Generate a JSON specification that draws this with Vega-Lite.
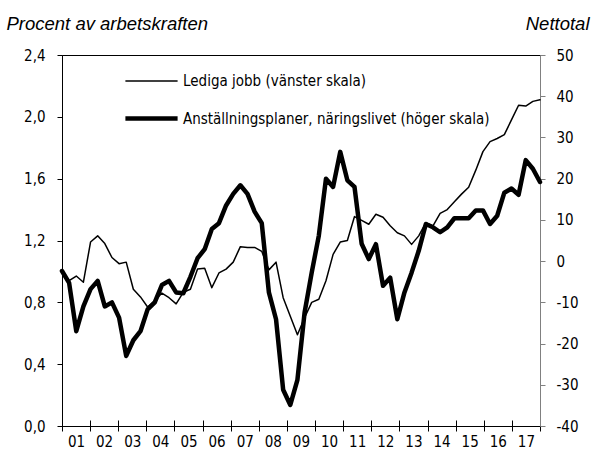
{
  "$schema": "https://vega.github.io/schema/vega-lite/v6.json",
  "width": 478,
  "height": 371,
  "autosize": {"type": "none"},
  "padding": {"left": 62, "top": 55, "right": 52, "bottom": 31},
  "background": "white",
  "config": {
    "view": {"stroke": "black", "strokeWidth": 1},
    "axis": {"labelFont": "DejaVu Sans Condensed, Liberation Sans, sans-serif", "labelFontSize": 15, "labelColor": "black", "grid": false, "titleFont": "Liberation Sans", "titleFontSize": 18.5, "titleFontStyle": "italic", "titleFontWeight": "normal", "titleColor": "black"}
  },
  "title": {"text": "Arbetsmarknaden fortsätter att stärkas", "anchor": "start", "frame": "group", "fontSize": 33, "fontWeight": "bold", "font": "Liberation Sans", "color": "black", "baseline": "alphabetic", "offset": -14, "dx": -62},
  "data": {"values": [
    {"q":0,"series":"jobb","value":0.99},{"q":1,"series":"jobb","value":0.94},{"q":2,"series":"jobb","value":0.97},{"q":3,"series":"jobb","value":0.93},
    {"q":4,"series":"jobb","value":1.19},{"q":5,"series":"jobb","value":1.23},{"q":6,"series":"jobb","value":1.18},{"q":7,"series":"jobb","value":1.09},
    {"q":8,"series":"jobb","value":1.05},{"q":9,"series":"jobb","value":1.06},{"q":10,"series":"jobb","value":0.885},{"q":11,"series":"jobb","value":0.835},
    {"q":12,"series":"jobb","value":0.77},{"q":13,"series":"jobb","value":0.81},{"q":14,"series":"jobb","value":0.86},{"q":15,"series":"jobb","value":0.83},
    {"q":16,"series":"jobb","value":0.79},{"q":17,"series":"jobb","value":0.865},{"q":18,"series":"jobb","value":0.885},{"q":19,"series":"jobb","value":1.015},
    {"q":20,"series":"jobb","value":1.02},{"q":21,"series":"jobb","value":0.895},{"q":22,"series":"jobb","value":0.99},{"q":23,"series":"jobb","value":1.015},
    {"q":24,"series":"jobb","value":1.06},{"q":25,"series":"jobb","value":1.16},{"q":26,"series":"jobb","value":1.155},{"q":27,"series":"jobb","value":1.155},
    {"q":28,"series":"jobb","value":1.13},{"q":29,"series":"jobb","value":1.01},{"q":30,"series":"jobb","value":1.06},{"q":31,"series":"jobb","value":0.83},
    {"q":32,"series":"jobb","value":0.71},{"q":33,"series":"jobb","value":0.59},{"q":34,"series":"jobb","value":0.70},{"q":35,"series":"jobb","value":0.80},
    {"q":36,"series":"jobb","value":0.82},{"q":37,"series":"jobb","value":0.94},{"q":38,"series":"jobb","value":1.11},{"q":39,"series":"jobb","value":1.19},
    {"q":40,"series":"jobb","value":1.20},{"q":41,"series":"jobb","value":1.355},{"q":42,"series":"jobb","value":1.33},{"q":43,"series":"jobb","value":1.305},
    {"q":44,"series":"jobb","value":1.37},{"q":45,"series":"jobb","value":1.35},{"q":46,"series":"jobb","value":1.295},{"q":47,"series":"jobb","value":1.25},
    {"q":48,"series":"jobb","value":1.23},{"q":49,"series":"jobb","value":1.175},{"q":50,"series":"jobb","value":1.23},{"q":51,"series":"jobb","value":1.315},
    {"q":52,"series":"jobb","value":1.295},{"q":53,"series":"jobb","value":1.375},{"q":54,"series":"jobb","value":1.40},{"q":55,"series":"jobb","value":1.45},
    {"q":56,"series":"jobb","value":1.50},{"q":57,"series":"jobb","value":1.545},{"q":58,"series":"jobb","value":1.655},{"q":59,"series":"jobb","value":1.775},
    {"q":60,"series":"jobb","value":1.84},{"q":61,"series":"jobb","value":1.86},{"q":62,"series":"jobb","value":1.885},{"q":63,"series":"jobb","value":1.98},
    {"q":64,"series":"jobb","value":2.075},{"q":65,"series":"jobb","value":2.07},{"q":66,"series":"jobb","value":2.10},{"q":67,"series":"jobb","value":2.11},
    {"q":0,"series":"plan","value":-2.4},{"q":1,"series":"plan","value":-5.3},{"q":2,"series":"plan","value":-17},{"q":3,"series":"plan","value":-11},
    {"q":4,"series":"plan","value":-6.8},{"q":5,"series":"plan","value":-4.8},{"q":6,"series":"plan","value":-11},{"q":7,"series":"plan","value":-10},
    {"q":8,"series":"plan","value":-13.7},{"q":9,"series":"plan","value":-23},{"q":10,"series":"plan","value":-19.2},{"q":11,"series":"plan","value":-17},
    {"q":12,"series":"plan","value":-11.7},{"q":13,"series":"plan","value":-10},{"q":14,"series":"plan","value":-5.8},{"q":15,"series":"plan","value":-4.8},
    {"q":16,"series":"plan","value":-7.6},{"q":17,"series":"plan","value":-7.8},{"q":18,"series":"plan","value":-3.8},{"q":19,"series":"plan","value":0.7},
    {"q":20,"series":"plan","value":2.9},{"q":21,"series":"plan","value":7.8},{"q":22,"series":"plan","value":9.2},{"q":23,"series":"plan","value":13.5},
    {"q":24,"series":"plan","value":16.3},{"q":25,"series":"plan","value":18.4},{"q":26,"series":"plan","value":16.3},{"q":27,"series":"plan","value":12},
    {"q":28,"series":"plan","value":9.2},{"q":29,"series":"plan","value":-7.6},{"q":30,"series":"plan","value":-14.1},{"q":31,"series":"plan","value":-31.2},
    {"q":32,"series":"plan","value":-34.9},{"q":33,"series":"plan","value":-28.8},{"q":34,"series":"plan","value":-12.5},{"q":35,"series":"plan","value":-2.8},
    {"q":36,"series":"plan","value":6.2},{"q":37,"series":"plan","value":20},{"q":38,"series":"plan","value":18},{"q":39,"series":"plan","value":26.5},
    {"q":40,"series":"plan","value":19.6},{"q":41,"series":"plan","value":18},{"q":42,"series":"plan","value":4.2},{"q":43,"series":"plan","value":0.5},
    {"q":44,"series":"plan","value":4.1},{"q":45,"series":"plan","value":-6},{"q":46,"series":"plan","value":-4},{"q":47,"series":"plan","value":-14.1},
    {"q":48,"series":"plan","value":-7.6},{"q":49,"series":"plan","value":-2.8},{"q":50,"series":"plan","value":2.5},{"q":51,"series":"plan","value":9},
    {"q":52,"series":"plan","value":8.2},{"q":53,"series":"plan","value":7},{"q":54,"series":"plan","value":8.2},{"q":55,"series":"plan","value":10.4},
    {"q":56,"series":"plan","value":10.4},{"q":57,"series":"plan","value":10.4},{"q":58,"series":"plan","value":12.3},{"q":59,"series":"plan","value":12.3},
    {"q":60,"series":"plan","value":9},{"q":61,"series":"plan","value":11},{"q":62,"series":"plan","value":16.6},{"q":63,"series":"plan","value":17.6},
    {"q":64,"series":"plan","value":16.1},{"q":65,"series":"plan","value":24.5},{"q":66,"series":"plan","value":22.4},{"q":67,"series":"plan","value":19.2}
  ]},
  "layer": [
    {
      "transform": [{"filter": "datum.series == 'jobb'"}],
      "mark": {"type": "line", "color": "black", "strokeJoin": "round", "strokeCap": "round"},
      "encoding": {
        "x": {"field": "q", "type": "quantitative", "scale": {"domain": [0, 67], "nice": false, "zero": false},
          "axis": {"orient": "bottom", "title": null, "values": [0, 3.9412, 7.8824, 11.8235, 15.7647, 19.7059, 23.6471, 27.5882, 31.5294, 35.4706, 39.4118, 43.3529, 47.2941, 51.2353, 55.1765, 59.1176, 63.0588, 67],
            "labelExpr": "round(datum.value*17/67) < 17 ? (round(datum.value*17/67) < 9 ? '0' : '') + (round(datum.value*17/67) + 1) : ''",
            "labelOffset": 14, "labelFlush": false, "labelOverlap": false, "tickSize": 5, "tickColor": "black", "domainColor": "black", "labelPadding": 3}},
        "y": {"field": "value", "type": "quantitative", "scale": {"domain": [0, 2.4], "nice": false, "zero": false},
          "axis": {"orient": "left", "values": [0, 0.4, 0.8, 1.2, 1.6, 2.0, 2.4], "labelExpr": "replace(format(datum.value, '.1f'), '.', ',')",
            "tickSize": 5, "tickColor": "black", "domainColor": "black", "labelPadding": 12,
            "title": "Procent av arbetskraften", "titleAngle": 0, "titleAlign": "left", "titleBaseline": "alphabetic", "titleX": -56, "titleY": -26}},
        "strokeWidth": {"field": "series", "type": "nominal", "scale": {"domain": ["jobb", "plan"], "range": [1.5, 4.5]},
          "legend": {"orient": "none", "legendX": 78, "legendY": 16, "title": null, "symbolType": "M-2.9,0H2.9", "symbolSize": 324,
            "labelOffset": 20, "labelFontSize": 15, "labelFont": "DejaVu Sans Condensed, Liberation Sans, sans-serif", "labelColor": "black", "labelLimit": 500,
            "rowPadding": 18, "padding": 0, "symbolStrokeColor": "black",
            "labelExpr": "datum.label == 'jobb' ? 'Lediga jobb (vänster skala)' : 'Anställningsplaner, näringslivet (höger skala)'"}}
      }
    },
    {
      "transform": [{"filter": "datum.series == 'plan'"}],
      "mark": {"type": "line", "color": "black", "strokeJoin": "round", "strokeCap": "round"},
      "encoding": {
        "x": {"field": "q", "type": "quantitative", "scale": {"domain": [0, 67], "nice": false, "zero": false},
          "axis": {"orient": "bottom", "title": null, "values": [0, 3.9412, 7.8824, 11.8235, 15.7647, 19.7059, 23.6471, 27.5882, 31.5294, 35.4706, 39.4118, 43.3529, 47.2941, 51.2353, 55.1765, 59.1176, 63.0588, 67],
            "labels": false, "domain": false, "tickSize": -6, "tickColor": "black"}},
        "y": {"field": "value", "type": "quantitative", "scale": {"domain": [-40, 50], "nice": false, "zero": false},
          "axis": {"orient": "right", "values": [-40, -30, -20, -10, 0, 10, 20, 30, 40, 50], "labelExpr": "datum.value < 0 ? '-' + abs(datum.value) : '' + datum.value",
            "tickSize": 5, "tickColor": "#808080", "domainColor": "#808080", "labelPadding": 11,
            "title": "Nettotal", "titleAngle": 0, "titleAlign": "right", "titleBaseline": "alphabetic", "titleX": 49, "titleY": -26}},
        "strokeWidth": {"field": "series", "type": "nominal", "scale": {"domain": ["jobb", "plan"], "range": [1.5, 4.5]}}
      }
    }
  ],
  "resolve": {"scale": {"y": "independent"}, "axis": {"x": "independent"}}
}
